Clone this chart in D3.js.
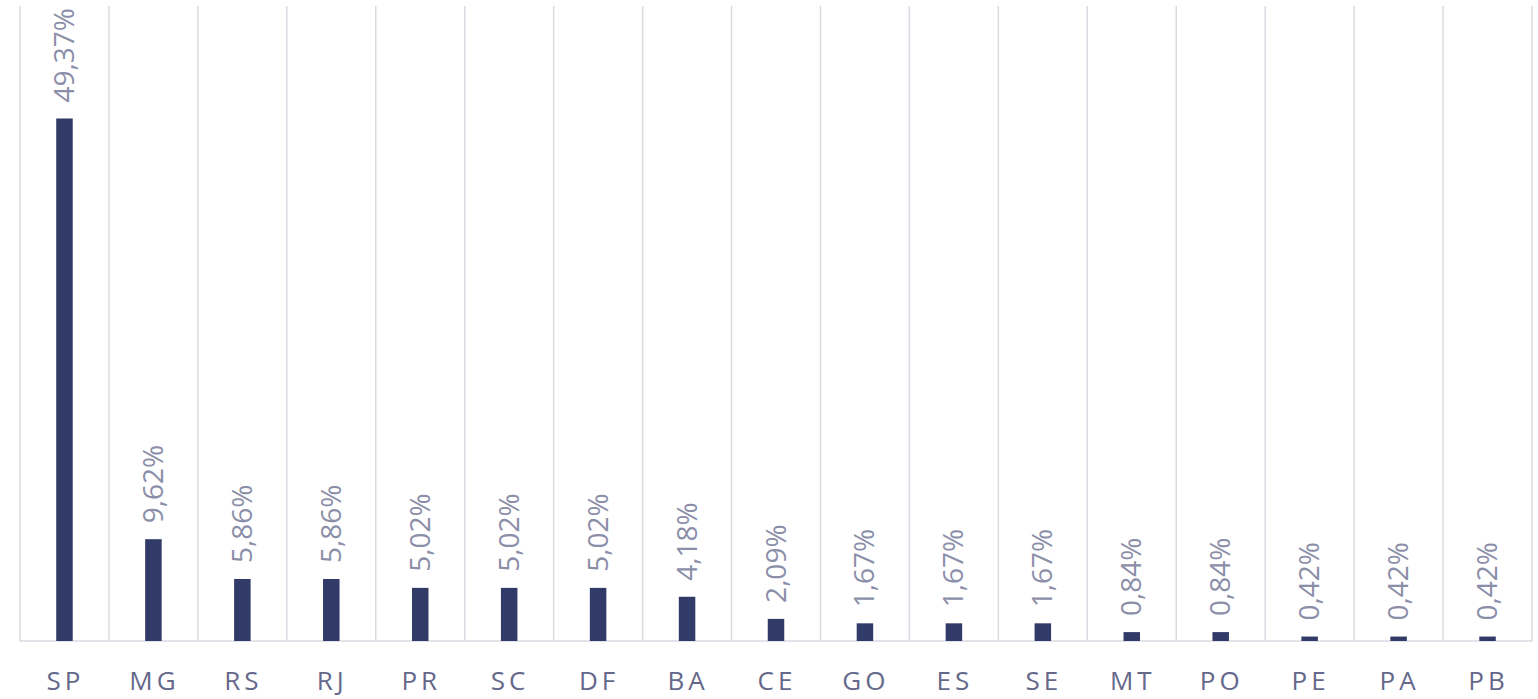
<!DOCTYPE html>
<html>
<head>
<meta charset="utf-8">
<script src="https://cdn.jsdelivr.net/npm/d3@7"></script>
<style>
  body { margin: 0; background: #fff; }
  #root { width: 1538px; height: 699px; }
  .lbl { font-family: "Open Sans", sans-serif; font-size: 28px; fill: #8b8ea8; }
  .cat { font-family: "Open Sans", sans-serif; font-size: 26px; fill: #65688a; letter-spacing: 4px; }
</style>
</head>
<body>
<div id="root"></div>
<script>
// estados e participação (%)
const estados = ['SP','MG','RS','RJ','PR','SC','DF','BA','CE','GO','ES','SE','MT','PO','PE','PA','PB'];
const valores = [49.37, 9.62, 5.86, 5.86, 5.02, 5.02, 5.02, 4.18, 2.09, 1.67, 1.67, 1.67, 0.84, 0.84, 0.42, 0.42, 0.42];
const rotulos = ['49,37%','9,62%','5,86%','5,86%','5,02%','5,02%','5,02%','4,18%','2,09%','1,67%','1,67%','1,67%','0,84%','0,84%','0,42%','0,42%','0,42%'];

const W = 1538, H = 699;
const m = { top: 6, left: 20, right: 6, bottom: 58 };

const svg = d3.select('#root').append('svg').attr('width', W).attr('height', H);

const x = d3.scaleBand().domain(estados).range([m.left, W - m.right]);
const y = d3.scaleLinear().domain([0, 60]).range([H - m.bottom, m.top]);

// linhas verticais entre categorias
const bordas = estados.map(e => x(e)).concat([x.range()[1]]);
svg.append('g').selectAll('line').data(bordas).join('line')
  .attr('x1', d => d).attr('x2', d => d)
  .attr('y1', y(60)).attr('y2', y(0))
  .attr('stroke', '#dadae3').attr('stroke-width', 1.5);

// linha base
svg.append('line')
  .attr('x1', m.left).attr('x2', W - m.right)
  .attr('y1', y(0)).attr('y2', y(0))
  .attr('stroke', '#dadae3').attr('stroke-width', 1.5);

const bw = 16.5;
svg.append('g').selectAll('rect').data(estados).join('rect')
  .attr('x', d => x(d) + x.bandwidth()/2 - bw/2)
  .attr('width', bw)
  .attr('y', (d, i) => y(valores[i]))
  .attr('height', (d, i) => y(0) - y(valores[i]))
  .attr('fill', '#323a68');

// rótulos de valor (girados)
svg.append('g').selectAll('text').data(estados).join('text')
  .attr('class', 'lbl')
  .attr('transform', (d, i) => `translate(${x(d) + x.bandwidth()/2 + 9.5},${y(valores[i]) - 16}) rotate(-90)`)
  .attr('text-anchor', 'start')
  .text((d, i) => rotulos[i]);

// rótulos do eixo X
svg.append('g').selectAll('text').data(estados).join('text')
  .attr('class', 'cat')
  .attr('x', d => x(d) + x.bandwidth()/2 + 1)
  .attr('y', 690)
  .attr('text-anchor', 'middle')
  .text(d => d);
</script>
</body>
</html>
